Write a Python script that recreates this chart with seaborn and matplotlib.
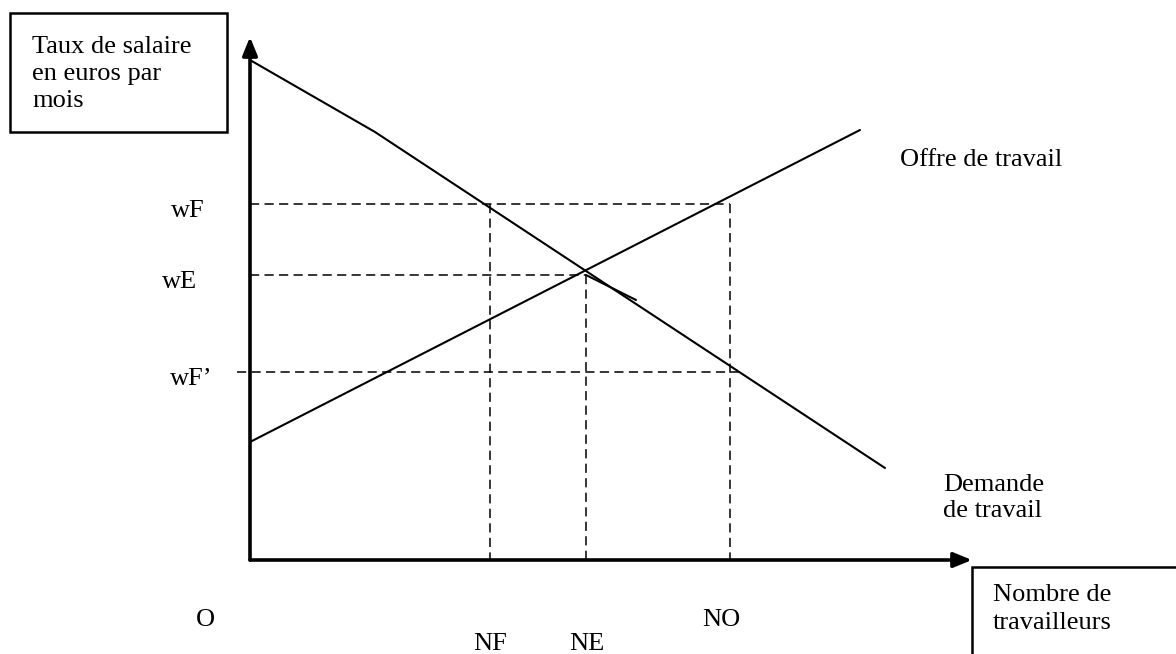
import matplotlib
matplotlib.use("Agg")
import matplotlib.pyplot as plt
import seaborn as sns
import pandas as pd
from matplotlib.patches import Rectangle

# ---- data (abstract units: quantity of labour / wage) ----
demand_x = [0.0, 12.5, 63.5]
demand_y = [50.0, 42.8, 9.2]
supply_x = [0.0, 61.0]
supply_y = [11.8, 43.0]
stub_x = [33.6, 38.6]
stub_y = [28.5, 26.0]

wage_levels = {"wF": 35.6, "wE": 28.5, "wF\u2019": 18.8}
quantity_levels = {"NF": 24.0, "NE": 33.6, "NO": 48.0}

sns.set_style("white")
plt.rcParams["font.family"] = ["Liberation Serif", "DejaVu Serif"]
plt.rcParams["text.color"] = "black"

fig = plt.figure(figsize=(11.76, 6.54), dpi=100)
ax = fig.add_axes([0, 0, 1, 1])
ax.set_xlim(-25.0, 92.6)
ax.set_ylim(-9.4, 56.0)
ax.axis("off")

demand = pd.DataFrame({"x": demand_x, "y": demand_y})
supply = pd.DataFrame({"x": supply_x, "y": supply_y})
sns.lineplot(data=demand, x="x", y="y", ax=ax, color="black", lw=1.5, sort=False)
sns.lineplot(data=supply, x="x", y="y", ax=ax, color="black", lw=1.5, sort=False)
ax.plot(stub_x, stub_y, color="black", lw=1.5)

# axes with arrows
arrow = dict(arrowstyle="-|>,head_length=1.1,head_width=0.45", color="black", lw=2.6, shrinkA=0, shrinkB=0)
ax.annotate("", xy=(0, 52.3), xytext=(0, 0), arrowprops=arrow)
ax.annotate("", xy=(72.2, 0), xytext=(0, 0), arrowprops=arrow)

dash = (0, (6, 3.5))
wF, wE, wF2 = wage_levels["wF"], wage_levels["wE"], wage_levels["wF\u2019"]
NF, NE, NO = quantity_levels["NF"], quantity_levels["NE"], quantity_levels["NO"]
ax.plot([0, NO], [wF, wF], color="black", lw=1.1, ls=dash)
ax.plot([0, NE], [wE, wE], color="black", lw=1.1, ls=dash)
ax.plot([-1.3, NO + 1.0], [wF2, wF2], color="black", lw=1.1, ls=dash)
ax.plot([NF, NF], [wF, 0], color="black", lw=1.1, ls=dash)
ax.plot([NE, NE], [wE, 0], color="black", lw=1.1, ls=dash)
ax.plot([NO, NO], [wF, 0], color="black", lw=1.1, ls=dash)

fs = 19
ax.text(-6.2, wF - 0.7, "wF", fontsize=fs, ha="center", va="center")
ax.text(-7.0, wE - 0.7, "wE", fontsize=fs, ha="center", va="center")
ax.text(-5.9, wF2 - 0.7, "wF\u2019", fontsize=fs, ha="center", va="center")
ax.text(-4.5, -6.0, "O", fontsize=fs, ha="center", va="center")
ax.text(NF, -8.4, "NF", fontsize=fs, ha="center", va="center")
ax.text(NE + 0.1, -8.4, "NE", fontsize=fs, ha="center", va="center")
ax.text(NO - 0.9, -6.0, "NO", fontsize=fs, ha="center", va="center")

ax.text(65.0, 40.0, "Offre de travail", fontsize=fs, ha="left", va="center")
ax.text(69.3, 6.2, "Demande\nde travail", fontsize=fs, ha="left", va="center", linespacing=1.25)

# boxes
ax.add_patch(Rectangle((-24.0, 42.8), 21.7, 11.9, fill=False, ec="black", lw=1.8, clip_on=False))
ax.text(-21.8, 48.6, "Taux de salaire\nen euros par\nmois", fontsize=fs, ha="left", va="center", linespacing=1.3)
ax.add_patch(Rectangle((72.2, -10.5), 25.0, 9.8, fill=False, ec="black", lw=1.8, clip_on=False))
ax.text(74.3, -4.9, "Nombre de\ntravailleurs", fontsize=fs, ha="left", va="center", linespacing=1.35)

fig.savefig("out.png", dpi=100, facecolor="white")
